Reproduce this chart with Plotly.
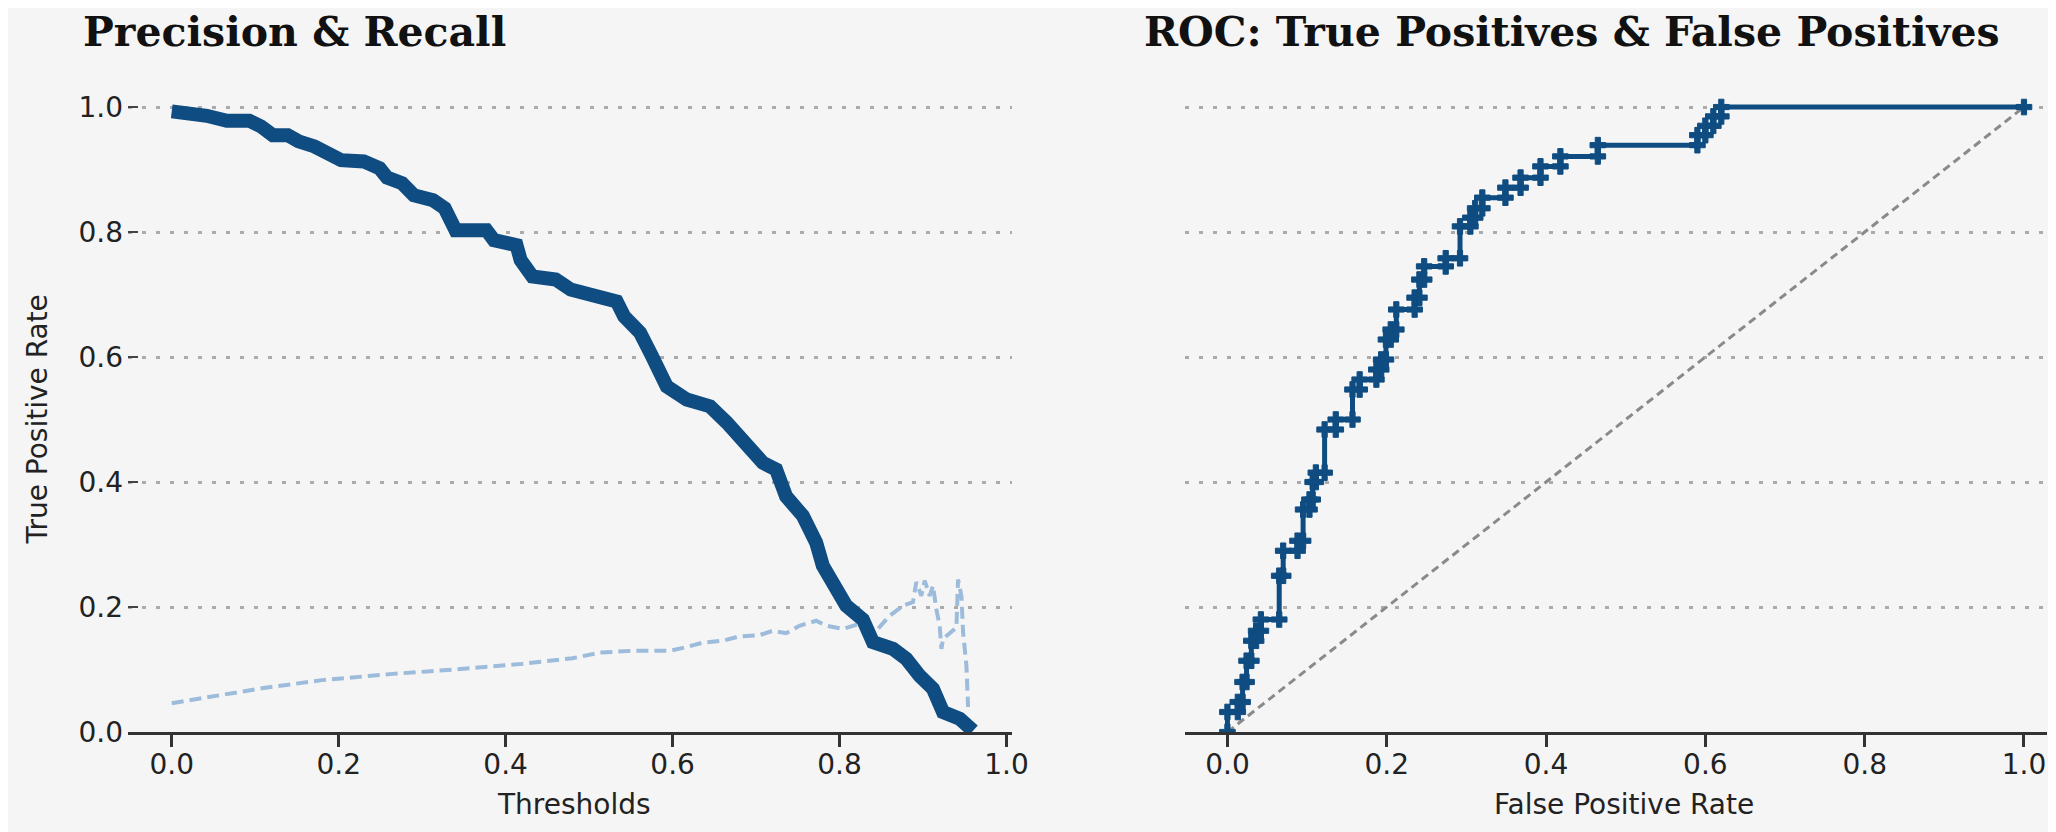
import plotly.graph_objects as go

# ---------------- data ----------------
thr_recall = [0.000, 0.024, 0.042, 0.066, 0.093, 0.107, 0.121, 0.139, 0.152, 0.171, 0.185, 0.203,
              0.230, 0.249, 0.258, 0.276, 0.290, 0.313, 0.327, 0.333, 0.340, 0.377, 0.386, 0.413,
              0.418, 0.432, 0.460, 0.478, 0.506, 0.533, 0.542, 0.561, 0.574, 0.593, 0.617, 0.645,
              0.665, 0.689, 0.708, 0.724, 0.736, 0.756, 0.772, 0.780, 0.796, 0.808, 0.828, 0.840,
              0.864, 0.880, 0.896, 0.912, 0.924, 0.944, 0.960]
recall = [0.993, 0.990, 0.986, 0.978, 0.978, 0.969, 0.955, 0.955, 0.945, 0.937, 0.926, 0.915,
          0.913, 0.902, 0.887, 0.878, 0.859, 0.851, 0.838, 0.819, 0.803, 0.803, 0.787, 0.779,
          0.755, 0.729, 0.724, 0.708, 0.697, 0.689, 0.665, 0.639, 0.605, 0.553, 0.532, 0.521,
          0.495, 0.457, 0.431, 0.420, 0.377, 0.346, 0.303, 0.266, 0.228, 0.202, 0.180, 0.144,
          0.133, 0.117, 0.090, 0.069, 0.032, 0.021, 0.002]

thr_precision = [0.000, 0.050, 0.108, 0.180, 0.265, 0.340, 0.420, 0.480, 0.513, 0.552, 0.597,
                 0.617, 0.636, 0.660, 0.680, 0.704, 0.720, 0.736, 0.752, 0.772, 0.784, 0.804,
                 0.824, 0.844, 0.860, 0.876, 0.888, 0.892, 0.898, 0.902, 0.908, 0.912, 0.916,
                 0.920, 0.922, 0.924, 0.932, 0.940, 0.942, 0.946, 0.948, 0.952, 0.954]
precision = [0.046, 0.057, 0.070, 0.083, 0.093, 0.100, 0.109, 0.118, 0.127, 0.130, 0.130,
             0.136, 0.143, 0.146, 0.153, 0.155, 0.162, 0.158, 0.170, 0.178, 0.170, 0.165,
             0.173, 0.162, 0.186, 0.202, 0.208, 0.240, 0.218, 0.242, 0.218, 0.234, 0.196,
             0.170, 0.133, 0.149, 0.157, 0.167, 0.244, 0.218, 0.160, 0.106, 0.040]

fpr = [0.000, 0.000, 0.013, 0.013, 0.019, 0.019, 0.024, 0.024, 0.030, 0.030, 0.036, 0.036,
       0.042, 0.042, 0.065, 0.065, 0.070, 0.070, 0.088, 0.088, 0.095, 0.095, 0.103, 0.103,
       0.107, 0.107, 0.111, 0.111, 0.122, 0.122, 0.136, 0.136, 0.157, 0.157, 0.166, 0.166,
       0.187, 0.187, 0.193, 0.193, 0.199, 0.199, 0.205, 0.205, 0.212, 0.212, 0.235, 0.235,
       0.241, 0.241, 0.247, 0.247, 0.274, 0.274, 0.292, 0.292, 0.305, 0.305, 0.311, 0.311,
       0.320, 0.320, 0.349, 0.349, 0.368, 0.368, 0.393, 0.393, 0.418, 0.418, 0.465, 0.465,
       0.590, 0.590, 0.600, 0.600, 0.610, 0.610, 0.620, 0.620, 1.000]
tpr = [0.000, 0.032, 0.032, 0.048, 0.048, 0.080, 0.080, 0.114, 0.114, 0.146, 0.146, 0.162,
       0.162, 0.180, 0.180, 0.250, 0.250, 0.290, 0.290, 0.306, 0.306, 0.356, 0.356, 0.372,
       0.372, 0.400, 0.400, 0.415, 0.415, 0.484, 0.484, 0.500, 0.500, 0.548, 0.548, 0.564,
       0.564, 0.580, 0.580, 0.596, 0.596, 0.628, 0.628, 0.644, 0.644, 0.676, 0.676, 0.695,
       0.695, 0.724, 0.724, 0.745, 0.745, 0.758, 0.758, 0.809, 0.809, 0.823, 0.823, 0.838,
       0.838, 0.855, 0.855, 0.871, 0.871, 0.887, 0.887, 0.905, 0.905, 0.921, 0.921, 0.939,
       0.939, 0.955, 0.955, 0.970, 0.970, 0.985, 0.985, 1.000, 1.000]

chance = [0.0, 1.0]

tick_vals = [0.0, 0.2, 0.4, 0.6, 0.8, 1.0]
tick_text = ["0.0", "0.2", "0.4", "0.6", "0.8", "1.0"]

titles = ["Precision & Recall", "ROC: True Positives & False Positives"]
x_titles = ["Thresholds", "False Positive Rate"]
y_title = "True Positive Rate"

# ---------------- style ----------------
W, H = 2056, 832
BG = "#f5f5f5"
DARK = "#0f4c81"
LIGHT = "#9dbbdb"
SANS = "DejaVu Sans"
SERIF = "DejaVu Serif"


def px(x):
    return x / W


def py(y):
    return 1 - y / H


fig = go.Figure()

fig.add_trace(go.Scatter(x=thr_precision, y=precision, mode="lines",
                         line=dict(color=LIGHT, width=4, dash="12px,6px"),
                         xaxis="x", yaxis="y", showlegend=False, hoverinfo="skip"))
fig.add_trace(go.Scatter(x=thr_recall, y=recall, mode="lines",
                         line=dict(color=DARK, width=14),
                         xaxis="x", yaxis="y", showlegend=False, hoverinfo="skip"))

fig.add_trace(go.Scatter(x=chance, y=chance, mode="lines",
                         line=dict(color="#8a8a8a", width=3, dash="8px,5px"),
                         xaxis="x2", yaxis="y2", showlegend=False, hoverinfo="skip"))
fig.add_trace(go.Scatter(x=fpr, y=tpr, mode="lines+markers",
                         line=dict(color=DARK, width=5),
                         marker=dict(symbol="cross", size=13, color=DARK,
                                     line=dict(color=DARK, width=1)),
                         xaxis="x2", yaxis="y2", showlegend=False, hoverinfo="skip"))

Y0, Y1, YTOP = 739.1, 101.1, 73.5          # pixel rows of 0.0, 1.0 and plot top
ydom = [py(Y0), py(YTOP)]
yrange = [0, (Y0 - YTOP) / (Y0 - Y1)]

xcommon = dict(tickvals=tick_vals, ticktext=tick_text, showline=True, linecolor="#333333",
               linewidth=3, ticks="outside", ticklen=12, tickwidth=3, tickcolor="#333333",
               ticklabelstandoff=-7,
               showgrid=False, zeroline=False, tickfont=dict(family=SANS, size=28, color="#222222"))
ycommon = dict(tickvals=tick_vals, ticktext=tick_text, range=yrange, domain=ydom,
               showgrid=True, gridcolor="#ababab", gridwidth=3, griddash="4px,10px",
               zeroline=False, showline=False,
               tickfont=dict(family=SANS, size=28, color="#222222"))

L0, L1 = 165.1, 1006.8       # pixel columns of 0 and 1 on the left plot
R0, R1 = 1229.6, 2032.8      # pixel columns of 0 and 1 on the right plot
left_lo, left_hi = 121.0, 1011.9
right_lo = 1187.2

fig.update_layout(
    width=W, height=H,
    margin=dict(l=0, r=0, t=0, b=0),
    paper_bgcolor=BG, plot_bgcolor=BG,
    hovermode=False,
    xaxis=dict(domain=[px(left_lo), px(left_hi)],
               range=[(left_lo - L0) / (L1 - L0), (left_hi - L0) / (L1 - L0)],
               anchor="y", **xcommon),
    yaxis=dict(anchor="x", ticks="inside", ticklen=10, tickwidth=2, tickcolor="#444444",
               ticklabelstandoff=4, **ycommon),
    xaxis2=dict(domain=[px(right_lo), 1.0],
                range=[(right_lo - R0) / (R1 - R0), (W - R0) / (R1 - R0)],
                anchor="y2", **xcommon),
    yaxis2=dict(anchor="x2", ticks="", showticklabels=False, **ycommon),
)

ann = [
    dict(text=titles[0], x=px(74), y=py(24), xanchor="left", yanchor="middle",
         font=dict(family=SERIF, size=41, color="#111111", weight="bold")),
    dict(text=titles[1], x=px(1143), y=py(24), xanchor="left", yanchor="middle",
         font=dict(family=SERIF, size=41, color="#111111", weight="bold")),
    dict(text=x_titles[0], x=px(570.5), y=py(813.5), xanchor="center", yanchor="middle",
         font=dict(family=SANS, size=28, color="#222222")),
    dict(text=x_titles[1], x=px(1629.6), y=py(813.5), xanchor="center", yanchor="middle",
         font=dict(family=SANS, size=28, color="#222222")),
    dict(text=y_title, x=px(29.3), y=py(420.1), xanchor="center", yanchor="middle",
         textangle=-90, font=dict(family=SANS, size=28, color="#222222")),
]
for a in ann:
    a.update(xref="paper", yref="paper", showarrow=False)
fig.update_layout(annotations=ann)

fig.write_html("out.html", config={"displayModeBar": False})
